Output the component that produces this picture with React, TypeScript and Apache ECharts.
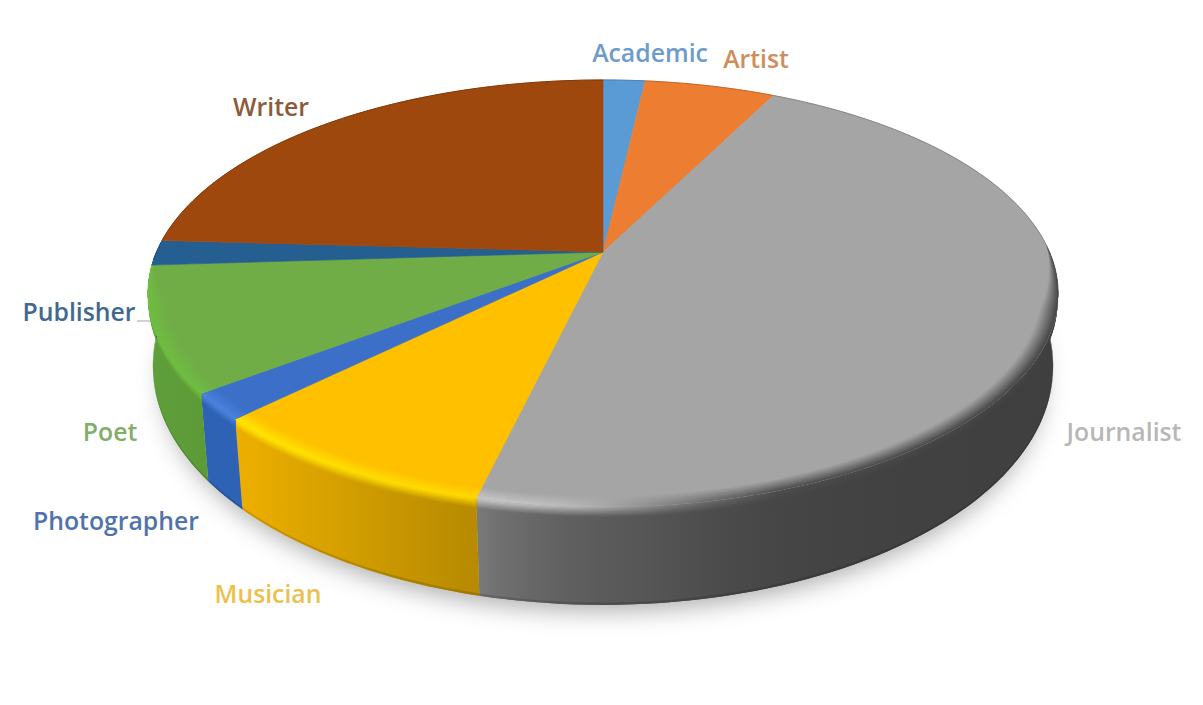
import React, { useEffect, useRef } from "react";
import * as echarts from "echarts";

const categories = ["Academic", "Artist", "Journalist", "Musician", "Photographer", "Poet", "Publisher", "Writer"];
const shares = [1.8, 5.6, 46.3, 8.9, 2.0, 9.4, 1.9, 24.1];

const topColors = ["#5B9BD5", "#ED7D31", "#A5A5A5", "#FFC000", "#3B6FC8", "#70AD47", "#255E91", "#9E480E"];
const labelColors = ["#6C9CCB", "#D08D5C", "#B7B7B7", "#EDC04E", "#4F73AA", "#81AE68", "#41698F", "#8C5A38"];
const labelCenters = [[650, 52], [756, 58], [1124, 431], [268, 593], [116, 520], [110, 431], [79, 311], [271, 106]];

type Stop = [number, string];
const edgeStops: Stop[][] = [
  [[0, "#5B9BD5"]], [[0, "#ED7D31"]],
  [[480, "#C8C8C8"], [560, "#BEBEBE"], [620, "#A0A0A0"], [700, "#707070"], [780, "#4C4C4C"], [1058, "#444444"]],
  [[232, "#FFE600"], [480, "#FFD800"]],
  [[0, "#4A82DC"]], [[0, "#6FBE40"]], [[0, "#255E91"]], [[0, "#9E480E"]],
];
const sideStops: Stop[][] = [
  [[0, "#4A86BC"]], [[0, "#C96A28"]],
  [[478, "#7F7F7F"], [500, "#707070"], [550, "#626262"], [650, "#555555"], [750, "#484848"], [820, "#434343"], [1058, "#3F3F3F"]],
  [[232, "#EFB000"], [350, "#D29E00"], [480, "#B58900"]],
  [[0, "#2E62B4"]], [[150, "#5F9F3A"], [210, "#5C9A38"]], [[0, "#1F4F7C"]], [[0, "#7E390B"]],
];

// projection of the pie's two circular faces
const CX = 603;
const TOP = { a: 156.5, b: 252, c: -0.194, A: 446.5 };
const BOTTOM = { a: 172, b: 324, c: -0.18, A: 442.7 };
const RAD = Math.PI / 180;
const project = (p: typeof TOP, deg: number, r = 1) => {
  const u = Math.sin(deg * RAD) * r;
  const v = -Math.cos(deg * RAD) * r;
  const w = 1 + p.c * v;
  return [CX + (p.A * u) / w, (p.a * v + p.b) / w];
};
const sideAt = (deg: number, f: number) => {
  const t = project(TOP, deg);
  const b = project(BOTTOM, deg);
  return [t[0] + (b[0] - t[0]) * f, t[1] + (b[1] - t[1]) * f];
};
const sweep = (a: number, b: number) => {
  const out: number[] = [];
  const n = Math.max(1, Math.ceil((b - a) / 1.5));
  for (let i = 0; i <= n; i++) out.push(a + ((b - a) * i) / n);
  return out;
};

const hex = (c: string) => [1, 3, 5].map((i) => parseInt(c.slice(i, i + 2), 16));
const mix = (a: string, b: string, t: number) => {
  const x = hex(a), y = hex(b);
  return `rgb(${x.map((v, i) => Math.round(v + (y[i] - v) * t)).join(",")})`;
};
const toHex = (c: number[]) => "#" + c.map((v) => Math.round(v).toString(16).padStart(2, "0")).join("");
const colorAt = (stops: Stop[], x: number) => {
  if (x <= stops[0][0] || stops.length === 1) return stops[0][1];
  for (let i = 1; i < stops.length; i++) {
    if (x <= stops[i][0]) {
      const t = (x - stops[i - 1][0]) / (stops[i][0] - stops[i - 1][0]);
      const p = hex(stops[i - 1][1]), q = hex(stops[i][1]);
      return toHex(p.map((v, k) => v + (q[k] - v) * t));
    }
  }
  return stops[stops.length - 1][1];
};
const X0 = 148, X1 = 1058;
const mixedGradient = (c1: (x: number) => string, c2: (x: number) => string, t: number) => {
  const colorStops = [];
  for (let i = 0; i <= 26; i++) {
    const x = X0 + ((X1 - X0) * i) / 26;
    colorStops.push({ offset: i / 26, color: mix(c1(x), c2(x), t) });
  }
  return new echarts.graphic.LinearGradient(X0, 0, X1, 0, colorStops, true);
};

const FRONT = [90, 270];
const BEVEL = [88, 268];
const BEVEL_WIDTH = 0.036;
const BANDS = 10;
const taper = (d: number) => Math.max(0, Math.min(1, (d - BEVEL[0]) / 18, (BEVEL[1] - d) / 12));

const rows = (() => {
  let acc = 0;
  return shares.map((s, i) => {
    const row = [acc * 3.6, (acc + s) * 3.6, i];
    acc += s;
    return row;
  });
})();

const renderShadow = () => ({
  type: "ellipse",
  shape: { cx: CX, cy: 372, rx: 440, ry: 229 },
  style: { fill: "#bbbbbb", shadowBlur: 24, shadowColor: "rgba(0,0,0,0.32)", shadowOffsetX: 0, shadowOffsetY: 10 },
});

const renderSide = (_: any, api: any) => {
  const a = Math.max(api.value(0), FRONT[0]);
  const b = Math.min(api.value(1), FRONT[1]);
  if (b <= a) return { type: "group", children: [] };
  const i = api.value(2);
  const angles = sweep(a, b);
  const side = (x: number) => colorAt(sideStops[i], x);
  const edge = (x: number) => colorAt(edgeStops[i], x);
  const band = (f0: number, f1: number, fill: any) => ({
    type: "polygon",
    shape: { points: [...angles.map((d) => sideAt(d, f0)), ...angles.slice().reverse().map((d) => sideAt(d, f1))] },
    style: { fill },
  });
  const children: any[] = [band(0, 1, mixedGradient(side, side, 0))];
  const steps = 8;
  const depth = 0.1;
  // painted from the deepest step upward, each one reaching the rim, so no seams show
  for (let k = steps - 1; k >= 0; k--) {
    children.push(band(0, (depth * (k + 1)) / steps, mixedGradient(edge, side, (k + 0.5) / steps)));
  }
  children.push(band(0.975, 1, mixedGradient(side, () => "#000000", 0.14)));
  return { type: "group", children };
};

const renderTop = (_: any, api: any) => {
  const i = api.value(2);
  const start = api.value(0), end = api.value(1);
  const angles = sweep(start, end);
  const apex = project(TOP, 0, 0);
  const children: any[] = [{
    type: "polygon",
    shape: { points: [apex, ...angles.map((d) => project(TOP, d))] },
    style: { fill: topColors[i], stroke: topColors[i], lineWidth: 0.6 },
  }];
  const backOutline = (p: number, q: number) => {
    if (q > p) {
      children.push({
        type: "polyline",
        shape: { points: sweep(p, q).map((d) => project(TOP, d)) },
        style: { fill: "none", stroke: mix(topColors[i], "#000000", 0.18), lineWidth: 1 },
      });
    }
  };
  backOutline(start, Math.min(end, 100));
  backOutline(Math.max(start, 268), end);
  const a = Math.max(start, BEVEL[0]);
  const b = Math.min(end, BEVEL[1]);
  if (b > a) {
    const arc = sweep(a, b);
    const base = () => topColors[i];
    const edge = (x: number) => colorAt(edgeStops[i], x);
    // painted from the innermost band outward, each one reaching the rim
    for (let k = 0; k < BANDS; k++) {
      const r0 = (d: number) => 1 - BEVEL_WIDTH * taper(d) * (1 - k / BANDS);
      children.push({
        type: "polygon",
        shape: { points: [...arc.map((d) => project(TOP, d, r0(d))), ...arc.slice().reverse().map((d) => project(TOP, d, 1))] },
        style: { fill: mixedGradient(base, edge, (k + 0.5) / BANDS) },
      });
    }
  }
  return { type: "group", children };
};

const renderLabel = (_: any, api: any) => {
  const i = api.value(2);
  const [x, y] = labelCenters[i];
  return {
    type: "text",
    x,
    y,
    style: {
      text: categories[i],
      fill: labelColors[i],
      font: '600 24.8px "Open Sans", sans-serif',
      textAlign: "center",
      textVerticalAlign: "middle",
    },
  };
};

const custom = (name: string, renderItem: any, data: number[][], z: number) => ({
  type: "custom",
  name,
  coordinateSystem: "none",
  renderItem,
  data,
  z,
  silent: true,
  clip: false,
});

export default function App() {
  const ref = useRef<HTMLDivElement>(null);
  useEffect(() => {
    const chart = echarts.init(ref.current!, undefined, { renderer: "svg" });
    chart.setOption({
      animation: false,
      backgroundColor: "#ffffff",
      graphic: [{
        type: "line",
        z: 20,
        shape: { x1: 137, y1: 321, x2: 151, y2: 321 },
        style: { stroke: "#a6a6a6", lineWidth: 1 },
      }],
      series: [
        custom("shadow", renderShadow, [rows[0]], 1),
        custom("side", renderSide, rows, 2),
        custom("top", renderTop, rows, 3),
        custom("labels", renderLabel, rows, 4),
      ],
    });
    return () => chart.dispose();
  }, []);
  return <div ref={ref} style={{ position: "fixed", left: 0, top: 0, width: 1203, height: 705 }} />;
}
